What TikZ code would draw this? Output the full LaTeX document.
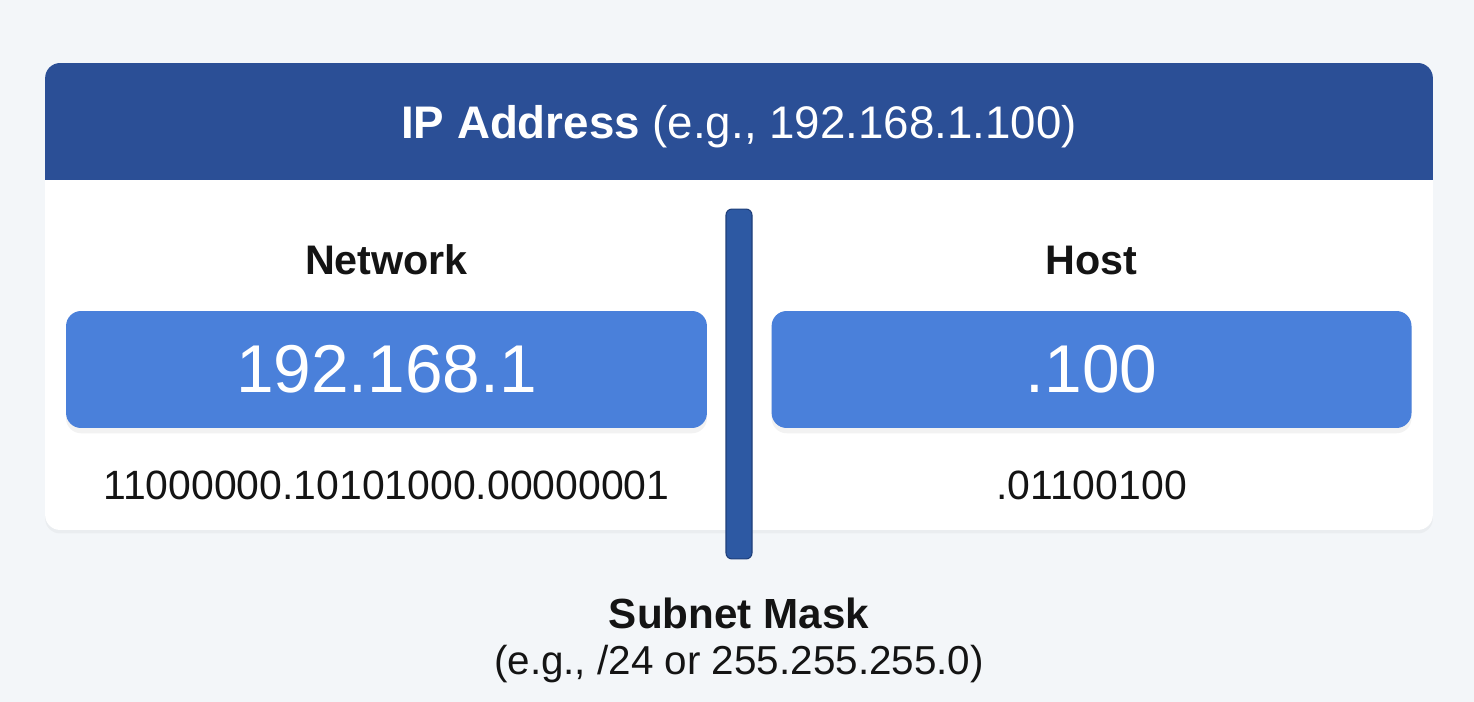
\documentclass[tikz,border=0pt]{standalone}
\usepackage{fontspec}
\setmainfont{Liberation Sans}
\usetikzlibrary{positioning, shadows}

\definecolor{pagebg}{HTML}{F3F6F9}
\definecolor{headblue}{HTML}{2B4F96}
\definecolor{barblue}{HTML}{2D59A3}
\definecolor{barline}{HTML}{1F3F7A}
\definecolor{boxblue}{HTML}{4A80DA}
\definecolor{inktext}{HTML}{141414}

\begin{document}
\begin{tikzpicture}[
x=0.02cm, y=-0.02cm,
card/.style={rectangle,
  rounded corners=0.3cm,
  fill=white,
  minimum width=27.76cm,
  minimum height=9.34cm,
  drop shadow={shadow xshift=0pt, shadow yshift=-2pt, opacity=0.06, fill=black!60}
},
header/.style={rectangle,
  rounded corners=0.3cm,
  fill=headblue,
  text=white,
  minimum width=27.76cm,
  minimum height=2.34cm,
  font=\fontsize{26}{30}\selectfont
},
valbox/.style={rectangle,
  rounded corners=0.3cm,
  fill=boxblue,
  text=white,
  minimum height=2.34cm,
  font=\fontsize{38.5}{44}\selectfont,
  drop shadow={shadow xshift=0pt, shadow yshift=-3pt, opacity=0.1, fill=black!50}
},
partlabel/.style={inner sep=0pt,
  text=inktext,
  font=\fontsize{23.5}{26}\selectfont\bfseries
},
bits/.style={inner sep=0pt,
  text=inktext,
  font=\fontsize{23.3}{26}\selectfont
},
divider/.style={rectangle,
  rounded corners=0.12cm,
  fill=barblue,
  draw=barline,
  line width=0.6pt,
  minimum width=0.52cm,
  minimum height=7cm
}
]

% page
\fill[pagebg] (0,0) rectangle (1474,702);

% card and its header
\node[card] (card) at (739,296.5) {};
\node[header] (head) at (739,121.5) {};
\fill[headblue] ([yshift=0.6cm]head.south west) rectangle (head.south east);
\node[text=white, font=\fontsize{26}{30}\selectfont, yshift=-0.1cm] (headtext) at (head.center)
    {{\bfseries IP Address} (e.g., 192.168.1.100)};

% network and host parts
\node[valbox, minimum width=12.82cm] (netbox) at (386.5,369.5)
    {192.168.1};
\node[valbox, minimum width=12.8cm, right=1.28cm of netbox] (hostbox)
    {.100};

\node[partlabel, above=0.7cm of netbox] (netlabel)
    {Network};
\node[partlabel, above=0.7cm of hostbox] (hostlabel)
    {Host};

\node[bits, below=0.84cm of netbox] (netbits)
    {11000000.10101000.00000001};
\node[bits, below=0.84cm of hostbox] (hostbits)
    {.01100100};

% split line
\node[divider] (bar) at (739,384) {};

\node[inner sep=0pt, align=center, text=inktext, font=\fontsize{23}{26}\selectfont,
  below=0.76cm of bar] (mask)
    {{\bfseries\fontsize{24}{26}\selectfont Subnet Mask}\\(e.g., /24 or 255.255.255.0)};
\end{tikzpicture}
\end{document}
